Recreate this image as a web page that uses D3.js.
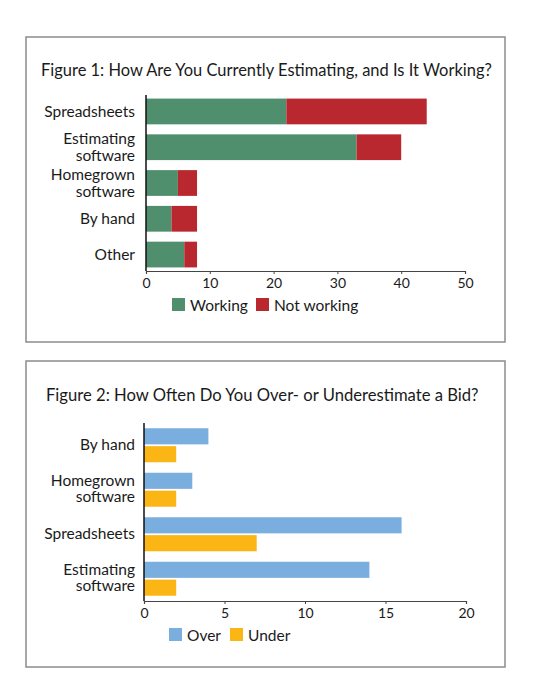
<!DOCTYPE html>
<html><head><meta charset="utf-8">
<script src="https://cdn.jsdelivr.net/npm/d3@7"></script>
<style>
body{margin:0;background:#fff;}
text{font-family:Lato,"Open Sans",sans-serif;fill:#1a1a1a;}
</style></head>
<body>
<script>
// Figure 1 data
const cats1 = ["Spreadsheets","Estimating software","Homegrown software","By hand","Other"];
const working = [22,33,5,4,6];
const notWorking = [22,7,3,4,2];
const ticks1 = [0,10,20,30,40,50];
const legend1 = ["Working","Not working"];
const title1 = "Figure 1: How Are You Currently Estimating, and Is It Working?";

// Figure 2 data
const cats2 = ["By hand","Homegrown software","Spreadsheets","Estimating software"];
const over = [4,3,16,14];
const under = [2,2,7,2];
const ticks2 = [0,5,10,15,20];
const legend2 = ["Over","Under"];
const title2 = "Figure 2: How Often Do You Over- or Underestimate a Bid?";

const labelLines = {
  "Spreadsheets":["Spreadsheets"],
  "Estimating software":["Estimating","software"],
  "Homegrown software":["Homegrown","software"],
  "By hand":["By hand"],
  "Other":["Other"]
};

const svg = d3.select("body").append("svg").attr("width",540).attr("height",700);

function fitTitle(sel, x1, x2){
  const target = x2 - x1;
  const len = sel.node().getComputedTextLength();
  const fs = parseFloat(sel.attr("font-size"));
  sel.attr("font-size", fs*target/len);
}

function catLabel(g, name, yc, xr){
  const lines = labelLines[name];
  const lh = 16.5;
  const t = g.append("text").attr("text-anchor","end").attr("font-size",15.5);
  lines.forEach((l,i)=>{
    t.append("tspan").attr("x",xr)
     .attr("y", yc + (i - (lines.length-1)/2)*lh)
     .attr("dy","0.35em").text(l);
  });
}

function xAxis(g, x, y0, ticks){
  g.append("g").attr("transform",`translate(0,${y0})`)
   .call(d3.axisBottom(x).tickValues(ticks).tickSize(3).tickPadding(4).tickFormat(d3.format("d")))
   .call(a=>a.select(".domain").attr("stroke","#444").attr("stroke-width",1.2))
   .call(a=>a.selectAll(".tick line").attr("stroke","#444"))
   .call(a=>a.selectAll(".tick text").attr("font-size",14).attr("font-family","Lato,'Open Sans',sans-serif").attr("fill","#1a1a1a"));
}

// ---------- Figure 1 ----------
{
  const g = svg.append("g");
  g.append("rect").attr("x",26).attr("y",37).attr("width",479).attr("height",305)
   .attr("fill","none").attr("stroke","#8c8c8c").attr("stroke-width",1.5);
  const t = g.append("text").attr("x",41).attr("y",76).attr("font-size",17).text(title1);
  fitTitle(t,41,492);

  const x = d3.scaleLinear().domain([0,50]).range([146,465]);
  const y = d3.scaleBand().domain(cats1).range([95,271]).paddingInner(0.28).paddingOuter(0.1);
  const colors = {"Working":"#4f8f6e","Not working":"#b8282e"};

  cats1.forEach((c,i)=>{
    g.append("rect").attr("x",x(0)).attr("y",y(c)).attr("width",x(working[i])-x(0))
     .attr("height",y.bandwidth()).attr("fill",colors["Working"]);
    g.append("rect").attr("x",x(working[i])).attr("y",y(c))
     .attr("width",x(working[i]+notWorking[i])-x(working[i]))
     .attr("height",y.bandwidth()).attr("fill",colors["Not working"]);
    catLabel(g,c,y(c)+y.bandwidth()/2,135);
  });
  xAxis(g,x,271,ticks1);
  g.append("line").attr("x1",x(0)).attr("x2",x(0)).attr("y1",95).attr("y2",271)
   .attr("stroke","#111").attr("stroke-width",1.5);

  const lx = [172,256];
  legend1.forEach((l,i)=>{
    g.append("rect").attr("x",lx[i]).attr("y",298).attr("width",13).attr("height",13).attr("fill",colors[l]);
    g.append("text").attr("x",lx[i]+18).attr("y",311).attr("font-size",15.5).text(l);
  });
}

// ---------- Figure 2 ----------
{
  const g = svg.append("g");
  g.append("rect").attr("x",26).attr("y",361).attr("width",479).attr("height",306)
   .attr("fill","none").attr("stroke","#8c8c8c").attr("stroke-width",1.5);
  const t = g.append("text").attr("x",46).attr("y",401).attr("font-size",17).text(title2);
  fitTitle(t,46,479);

  const x = d3.scaleLinear().domain([0,20]).range([144,466]);
  const y = d3.scaleBand().domain(cats2).range([423,601]).paddingInner(0.236).paddingOuter(0.118);
  const ys = d3.scaleBand().domain(legend2).range([0,y.bandwidth()]).paddingInner(0.1);
  const colors = {"Over":"#7aaedf","Under":"#fbb615"};
  const vals = {"Over":over,"Under":under};

  cats2.forEach((c,i)=>{
    legend2.forEach(s=>{
      g.append("rect").attr("x",x(0)).attr("y",y(c)+ys(s))
       .attr("width",x(vals[s][i])-x(0)).attr("height",ys.bandwidth()).attr("fill",colors[s]);
    });
    catLabel(g,c,y(c)+y.bandwidth()/2 - 1,135);
  });
  xAxis(g,x,601,ticks2);
  g.append("line").attr("x1",x(0)).attr("x2",x(0)).attr("y1",423).attr("y2",601)
   .attr("stroke","#111").attr("stroke-width",1.5);

  const lx = [169,230];
  legend2.forEach((l,i)=>{
    g.append("rect").attr("x",lx[i]).attr("y",628).attr("width",13).attr("height",13).attr("fill",colors[l]);
    g.append("text").attr("x",lx[i]+18).attr("y",641).attr("font-size",15.5).text(l);
  });
}
</script>
</body></html>
